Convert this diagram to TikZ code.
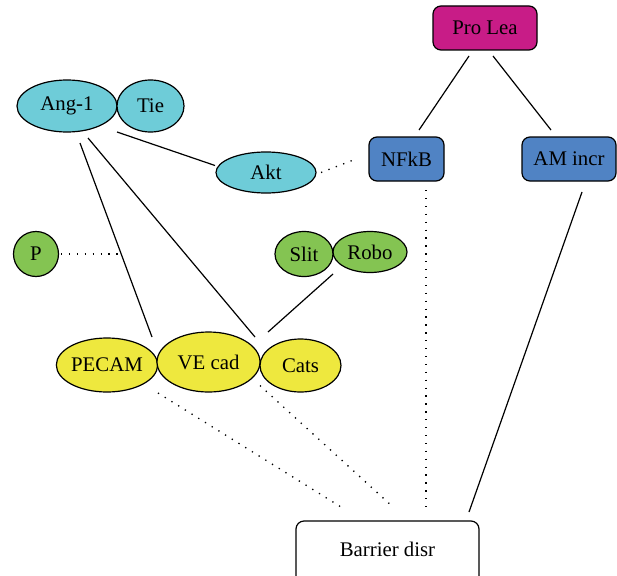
\documentclass[tikz,border=0pt]{standalone}
\usepackage{fontspec}
\setmainfont{Liberation Serif}
\usetikzlibrary{shapes.geometric,calc}
\definecolor{magentabox}{RGB}{200,28,135}
\definecolor{bluebox}{RGB}{80,131,196}
\definecolor{cyanell}{RGB}{110,204,216}
\definecolor{greenell}{RGB}{132,196,82}
\definecolor{yellowell}{RGB}{238,232,62}
\tikzset{
  rbox/.style={draw=black, line width=1.2pt, rounded corners=8pt, inner sep=0pt, font=\fontsize{20.8}{24}\selectfont},
  ell/.style={draw=black, line width=1.2pt, ellipse, inner sep=0pt, font=\fontsize{20.8}{24}\selectfont},
  link/.style={line width=1.2pt},
  dotlink/.style={line width=1.3pt, dash pattern=on 1.3pt off 6.6pt},
}
\begin{document}
\begin{tikzpicture}[x=1pt,y=-1pt]
\clip (0,0) rectangle (617,575);
\fill[white] (0,0) rectangle (617,575);

% signalling boxes
\node[rbox, fill=magentabox, minimum width=104pt, minimum height=44pt] (pro) at (485,28) {Pro Lea};
\node[rbox, fill=bluebox, minimum width=75pt, minimum height=44pt] (nfkb) at (406.5,159) {NFkB};
\node[rbox, fill=bluebox, minimum width=94pt, minimum height=44pt] (am) at (569,159) {AM incr};
\node[rbox, fill=white, minimum width=183pt, minimum height=66pt] (bar) at (387.5,554) {};
\node[font=\fontsize{20.8}{24}\selectfont] (bartxt) at (387.5,549) {Barrier disr};

% angiopoietin pathway
\node[ell, fill=cyanell, minimum width=100pt, minimum height=52pt] (ang) at (67,106) {Ang-1};
\node[ell, fill=cyanell, minimum width=67pt, minimum height=52pt] (tie) at (150.5,106) {Tie};
\node[ell, fill=cyanell, minimum width=100pt, minimum height=41pt] (akt) at (266,172.5) {Akt};

% green ellipses
\node[ell, fill=greenell, minimum width=45pt, minimum height=45pt] (p) at (36,254) {P};
\node[ell, fill=greenell, minimum width=58pt, minimum height=45pt] (slit) at (304,254) {Slit};
\node[ell, fill=greenell, minimum width=74pt, minimum height=41pt] (robo) at (370,252) {Robo};

% junction proteins
\node[ell, fill=yellowell, minimum width=100pt, minimum height=54pt] (pecam) at (107,365) {PECAM};
\node[ell, fill=yellowell, minimum width=103pt, minimum height=60pt] (vecad) at (208.5,362) {VE cad};
\node[ell, fill=yellowell, minimum width=81pt, minimum height=53pt] (cats) at (300.5,365.5) {Cats};

% solid connectors
\draw[link] ($(pro)+(-16,28)$) -- ($(nfkb)+(12.5,-29)$);
\draw[link] ($(pro)+(8,28)$) -- ($(am)+(-18,-29)$);
\draw[link] ($(ang)+(50,26)$) -- ($(akt)+(-51,-7)$);
\draw[link] ($(ang)+(13,37)$) -- ($(pecam)+(45,-28)$);
\draw[link] ($(ang)+(21,32)$) -- ($(vecad)+(46.5,-25)$);
\draw[link] ($(robo)+(-37,22)$) -- ($(cats)+(-32.5,-33.5)$);
\draw[link] ($(am)+(13,33)$) -- ($(bar)+(81.5,-42)$);

% dotted connectors
\draw[dotlink] ($(akt)+(55,0)$) -- ($(nfkb)+(-50.5,0)$);
\draw[dotlink] ($(p)+(25,0)$) -- ($(p)+(83,0)$);
\draw[dotlink] ($(pecam)+(51,28)$) -- ($(bar)+(-46.5,-47)$);
\draw[dotlink] ($(cats)+(-40.5,20)$) -- ($(bar)+(5.5,-47)$);
\draw[dotlink] ($(nfkb)+(19.5,31)$) -- ($(bar)+(38.5,-47)$);
\end{tikzpicture}
\end{document}
